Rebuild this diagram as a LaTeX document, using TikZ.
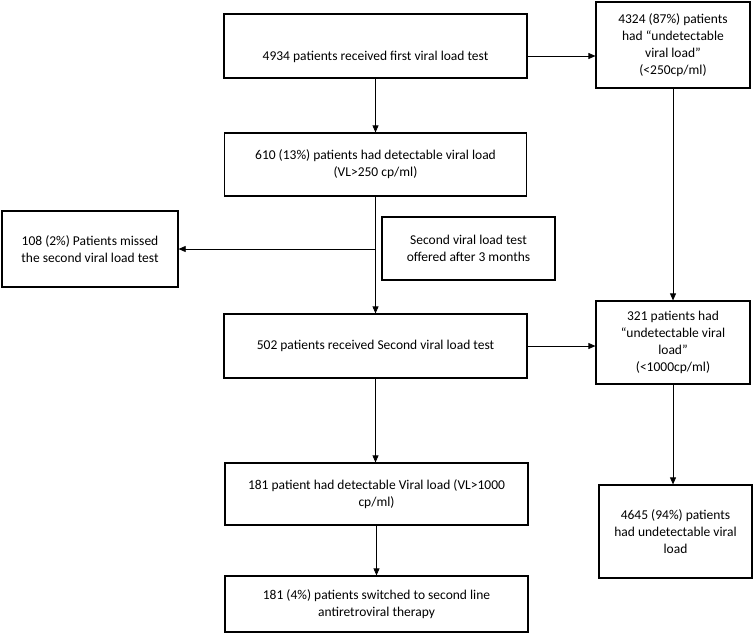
\documentclass[tikz,border=0pt]{standalone}
\usepackage{fontspec}
\setmainfont{Carlito}
\usetikzlibrary{arrows.meta}
\tikzset{
  box/.style={draw, line width=1.2pt, align=center, inner sep=2pt,
    font=\fontsize{13.5}{17}\selectfont},
  arr/.style={-{Triangle[length=7pt,width=6pt]}, line width=0.7pt}
}
\begin{document}
\begin{tikzpicture}[x=1pt, y=-1pt]
  \useasboundingbox (0,0) rectangle (754,634);
  % main column
  \node[box, minimum width=303pt, minimum height=64pt, text height=32pt, text depth=3.5pt] (first) at (375.5,46) {4934 patients received first viral load test};
  \node[box, minimum width=302pt, minimum height=63pt] (detect) at (375.5,164.5) {610 (13\%) patients had detectable viral load\\(VL>250 cp/ml)};
  \node[box, minimum width=303pt, minimum height=64pt] (second) at (375.5,346) {502 patients received Second viral load test};
  \node[box, minimum width=303pt, minimum height=62pt] (high) at (376.5,494) {181 patient had detectable Viral load (VL>1000\\cp/ml)};
  \node[box, minimum width=303pt, minimum height=56pt] (switch) at (376.5,604) {181 (4\%) patients switched to second line\\antiretroviral therapy};
  % side boxes
  \node[box, minimum width=176pt, minimum height=76pt] (missed) at (90,249) {108 (2\%) Patients missed\\the second viral load test};
  \node[box, minimum width=173pt, minimum height=63pt] (offer) at (468.5,248.5) {Second viral load test\\offered after 3 months};
  \node[box, minimum width=154pt, minimum height=86pt] (undet1) at (673,45) {4324 (87\%) patients\\had “undetectable\\viral load”\\(<250cp/ml)};
  \node[box, minimum width=154pt, minimum height=83pt] (undet2) at (673,342.5) {321 patients had\\“undetectable viral\\load”\\(<1000cp/ml)};
  \node[box, minimum width=153pt, minimum height=93pt] (undet3) at (675.5,531.5) {4645 (94\%) patients\\had undetectable viral\\load};
  \coordinate (split) at (detect.south |- missed.east);
  % arrows
  \draw[arr] ([yshift=-10pt]first.east) -- ([yshift=-10pt]first.east -| undet1.west);
  \draw[arr] (second.east) -- (second.east -| undet2.west);
  \draw[arr] (first.south) -- (first.south |- detect.north);
  \draw[arr] (detect.south) -- (detect.south |- second.north);
  \draw[arr] (split) -- (missed.east);
  \draw[arr] (second.south) -- (second.south |- high.north);
  \draw[arr] (high.south) -- (high.south |- switch.north);
  \draw[arr] (undet1.south) -- (undet1.south |- undet2.north);
  \draw[arr] (undet2.south) -- (undet2.south |- undet3.north);
\end{tikzpicture}
\end{document}
